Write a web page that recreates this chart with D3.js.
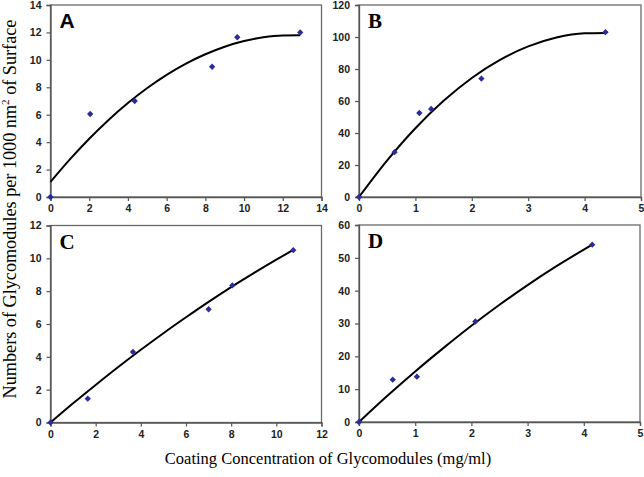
<!DOCTYPE html>
<html><head><meta charset="utf-8">
<script src="https://cdn.jsdelivr.net/npm/d3@7"></script>
<style>body{margin:0;background:#fff}</style>
</head><body>
<svg id="c" width="644" height="477"></svg>
<script>
// Panel A
const aX = [0, 2.05, 4.35, 8.35, 9.65, 12.9];
const aY = [0, 6.05, 7.0, 9.5, 11.65, 12.0];
const aCurveX = [0, 1, 2, 3, 4, 5, 6, 7, 8, 9, 10, 11, 12, 12.9];
const aCurveY = [1.1, 2.74, 4.25, 5.62, 6.85, 7.95, 8.91, 9.73, 10.41, 10.96, 11.37, 11.65, 11.78, 11.79];
const aXTicks = [0, 2, 4, 6, 8, 10, 12, 14];
const aYTicks = [0, 2, 4, 6, 8, 10, 12, 14];
// Panel B
const bX = [0, 0.63, 1.07, 1.28, 2.17, 4.37];
const bY = [0, 28, 52.5, 55, 74, 103];
const bCurveX = [0, 0.5, 1, 1.5, 2, 2.5, 3, 3.5, 4, 4.37];
const bCurveY = [0, 22.9, 43.0, 60.1, 74.4, 85.7, 94.1, 99.7, 102.3, 102.5];
const bXTicks = [0, 1, 2, 3, 4, 5];
const bYTicks = [0, 20, 40, 60, 80, 100, 120];
// Panel C
const cX = [0, 1.65, 3.65, 7.0, 8.05, 10.75];
const cY = [0, 1.45, 4.3, 6.9, 8.35, 10.5];
const cCurveX = [0, 1, 2, 3, 4, 5, 6, 7, 8, 9, 10, 10.75];
const cCurveY = [0, 1.17, 2.29, 3.38, 4.43, 5.44, 6.41, 7.35, 8.25, 9.10, 9.92, 10.51];
const cXTicks = [0, 2, 4, 6, 8, 10, 12];
const cYTicks = [0, 2, 4, 6, 8, 10, 12];
// Panel D
const dX = [0, 0.6, 1.03, 2.07, 4.15];
const dY = [0, 12.9, 13.8, 30.6, 54];
const dCurveX = [0, 0.5, 1, 1.5, 2, 2.5, 3, 3.5, 4, 4.15];
const dCurveY = [0, 7.9, 15.4, 22.5, 29.3, 35.7, 41.7, 47.3, 52.5, 54.0];
const dXTicks = [0, 1, 2, 3, 4, 5];
const dYTicks = [0, 10, 20, 30, 40, 50, 60];

const panelLabels = ["A", "B", "C", "D"];
const yTitle = "Numbers of Glycomodules per 1000 nm";
const xTitle = "Coating Concentration of Glycomodules (mg/ml)";

const svg = d3.select("#c");

const panels = [
  {label: panelLabels[0], font: "Liberation Sans, Arial, sans-serif", px: aX, py: aY, cx: aCurveX, cy: aCurveY, xt: aXTicks, yt: aYTicks, box: [50.5, 5, 321.5, 197]},
  {label: panelLabels[1], font: "Liberation Serif, Times New Roman, serif", px: bX, py: bY, cx: bCurveX, cy: bCurveY, xt: bXTicks, yt: bYTicks, box: [359, 5, 641, 197]},
  {label: panelLabels[2], font: "Liberation Serif, Times New Roman, serif", px: cX, py: cY, cx: cCurveX, cy: cCurveY, xt: cXTicks, yt: cYTicks, box: [50.5, 225.5, 321.5, 422.5]},
  {label: panelLabels[3], font: "Liberation Serif, Times New Roman, serif", px: dX, py: dY, cx: dCurveX, cy: dCurveY, xt: dXTicks, yt: dYTicks, box: [359, 225, 640, 422]}
];

panels.forEach(p => {
  const [l, t, r, b] = p.box;
  const x = d3.scaleLinear().domain(d3.extent(p.xt)).range([l, r]);
  const y = d3.scaleLinear().domain(d3.extent(p.yt)).range([b, t]);
  const g = svg.append("g");
  g.append("rect").attr("x", l).attr("y", t).attr("width", r - l).attr("height", b - t)
    .attr("fill", "none").attr("stroke", "#6a6a6a").attr("stroke-width", 1.3);
  const xa = g.append("g").attr("transform", `translate(0,${b})`)
    .call(d3.axisBottom(x).tickValues(p.xt).tickSize(4).tickPadding(4).tickFormat(d3.format("d")));
  const ya = g.append("g").attr("transform", `translate(${l},0)`)
    .call(d3.axisLeft(y).tickValues(p.yt).tickSize(4).tickPadding(5).tickFormat(d3.format("d")));
  [xa, ya].forEach(a => {
    a.select(".domain").attr("stroke", "#555").attr("stroke-width", 1.3);
    a.selectAll(".tick line").attr("stroke", "#555").attr("stroke-width", 1.2);
    a.selectAll("text").attr("fill", "#222").style("font-family", "Liberation Sans, Arial, sans-serif")
      .style("font-size", "10.5px").style("font-weight", "bold");
  });
  const line = d3.line().x(d => x(d[0])).y(d => y(d[1])).curve(d3.curveMonotoneX);
  g.append("path").datum(p.cx.map((v, i) => [v, p.cy[i]]))
    .attr("d", line).attr("fill", "none").attr("stroke", "#000").attr("stroke-width", 2);
  g.selectAll(".m").data(p.px.map((v, i) => [v, p.py[i]])).join("path")
    .attr("d", d3.symbol(d3.symbolSquare, 20)())
    .attr("transform", d => `translate(${x(d[0])},${y(d[1])}) rotate(45)`)
    .attr("fill", "#2b2b9a");
  g.append("text").attr("x", l + 9).attr("y", t + 23).text(p.label)
    .style("font-family", p.font).style("font-weight", "bold").style("font-size", "21px").attr("fill", "#000");
});

const yt = svg.append("text").attr("transform", "translate(15.5,209) rotate(-90)")
  .attr("text-anchor", "middle")
  .style("font-family", "Liberation Serif, Times New Roman, serif").style("font-size", "18.2px").attr("fill", "#000");
yt.append("tspan").text(yTitle);
yt.append("tspan").attr("dy", -7).style("font-size", "11px").text("2");
yt.append("tspan").attr("dy", 7).text(" of Surface");

svg.append("text").attr("x", 328).attr("y", 464).attr("text-anchor", "middle")
  .style("font-family", "Liberation Serif, Times New Roman, serif").style("font-size", "16.5px").attr("fill", "#000")
  .text(xTitle);
</script>
</body></html>
